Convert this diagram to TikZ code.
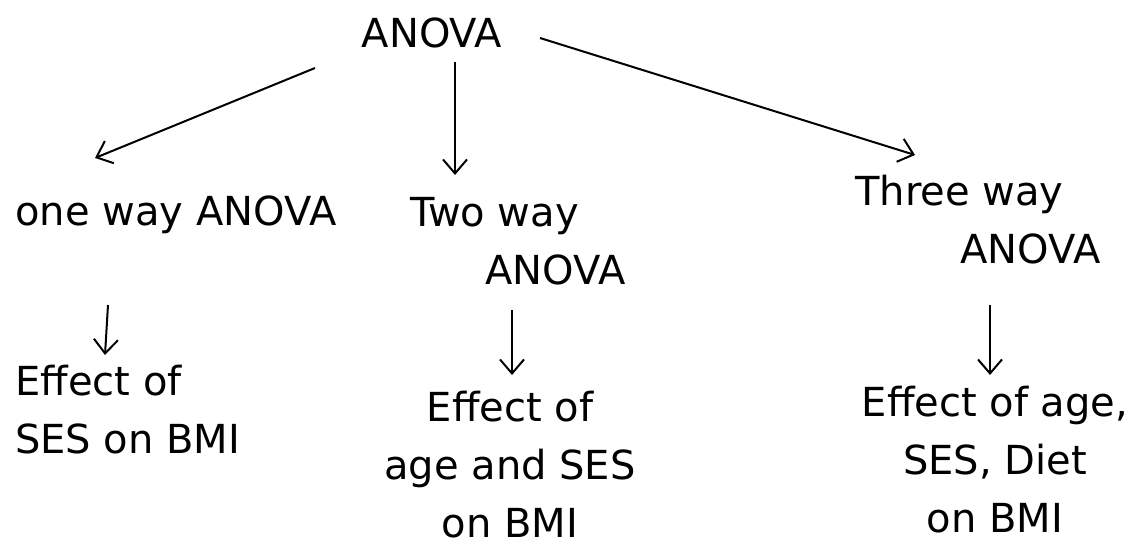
\documentclass[tikz,border=0pt]{standalone}
\usepackage{fontspec}
\setmainfont{DejaVu Sans}
\usetikzlibrary{arrows.meta,calc}
\begin{document}
\begin{tikzpicture}[x=1pt,y=-1pt,
  lbl/.style={inner sep=0pt,font=\fontsize{40}{58}\selectfont},
  arr/.style={line width=2pt,-{Straight Barb[length=14pt,width=24pt,line width=2pt]}}]
\fill[white] (0,0) rectangle (1148,551);
\useasboundingbox (0,0) rectangle (1148,551);
\node[lbl] (anova) at (432,33) {ANOVA};
\node[lbl] (one) at (176,215) {one way ANOVA};
\node[lbl,anchor=west,align=left] (two) at (410,241) {Two way\\\hspace*{75pt}ANOVA};
\node[lbl,anchor=west,align=left] (three) at (855,220) {Three way\\\hspace*{105pt}ANOVA};
\node[lbl,anchor=west,align=left] (eff1) at (15,410) {Effect of\\SES on BMI};
\node[lbl,align=center] (eff2) at (510,465) {Effect of\\age and SES\\on BMI};
\node[lbl,align=center] (eff3) at (995,460) {Effect of age,\\SES, Diet\\on BMI};
\draw[arr] ($(anova.center)+(-117,35)$) -- ($(one.center)+(-81,-57)$);
\draw[arr] ($(anova.center)+(23,29)$) -- ($(two.west)+(45,-66)$);
\draw[arr] ($(anova.center)+(108,5)$) -- ($(three.west)+(60,-65)$);
\draw[arr] ($(one.center)+(-68,90)$) -- ($(eff1.west)+(90,-55)$);
\draw[arr] ($(two.west)+(102,69)$) -- ($(eff2.center)+(2,-90)$);
\draw[arr] ($(three.west)+(135,85)$) -- ($(eff3.center)+(-5,-85)$);
\end{tikzpicture}
\end{document}
